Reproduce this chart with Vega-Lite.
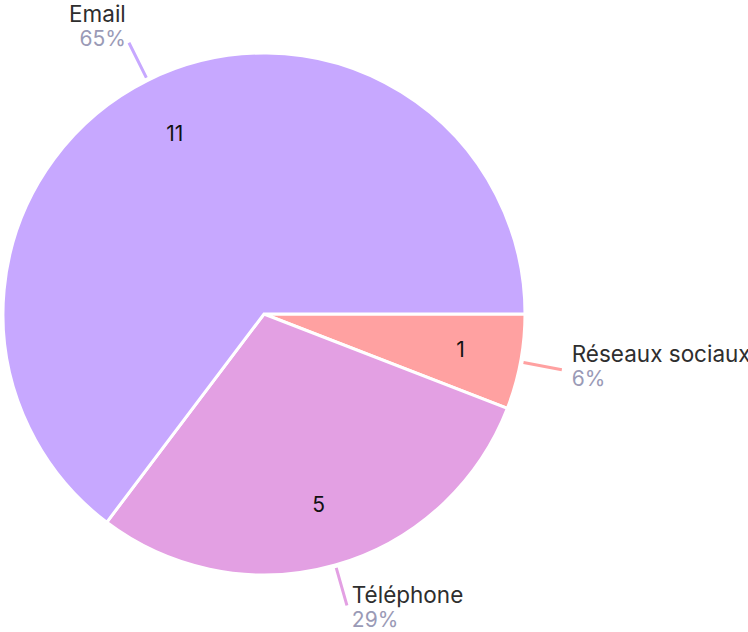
{
  "$schema": "https://vega.github.io/schema/vega-lite/v6.json",
  "width": 528,
  "height": 628,
  "autosize": {"type": "none"},
  "padding": {"left": 0, "top": 0, "right": 220, "bottom": 4},
  "background": "white",
  "config": {"view": {"stroke": null}, "font": "Inter"},
  "data": {
    "values": [
      {"name": "Réseaux sociaux", "value": 1, "share": 0.06},
      {"name": "Téléphone", "value": 5, "share": 0.29},
      {"name": "Email", "value": 11, "share": 0.65}
    ]
  },
  "transform": [
    {"stack": "value", "groupby": [], "sort": [{"field": "value", "order": "ascending"}], "as": ["start", "end"]},
    {"calculate": "(datum.start + datum.end) / 2", "as": "mid"}
  ],
  "layer": [
    {
      "mark": {"type": "arc", "outerRadius": 261, "stroke": "white", "strokeWidth": 3},
      "encoding": {
        "theta": {"field": "start", "type": "quantitative", "stack": null, "scale": {"domain": [0, 17], "range": [1.5708, 7.854]}},
        "theta2": {"field": "end"},
        "color": {"field": "name", "type": "nominal", "scale": {"domain": ["Email", "Téléphone", "Réseaux sociaux"], "range": ["#C7A8FF", "#E3A0E3", "#FFA1A1"]}, "legend": null}
      }
    },
    {
      "mark": {"type": "arc", "innerRadius": 264, "outerRadius": 303, "filled": false, "strokeWidth": 3, "strokeCap": "butt"},
      "encoding": {
        "theta": {"field": "mid", "type": "quantitative", "stack": null, "scale": {"domain": [0, 17], "range": [1.5708, 7.854]}},
        "theta2": {"field": "mid"},
        "color": {"field": "name", "type": "nominal", "scale": {"domain": ["Email", "Téléphone", "Réseaux sociaux"], "range": ["#C7A8FF", "#E3A0E3", "#FFA1A1"]}, "legend": null}
      }
    },
    {
      "mark": {"type": "text", "radius": 200, "fontSize": 21, "color": "#111111", "align": "center", "baseline": "middle"},
      "encoding": {
        "theta": {"field": "mid", "type": "quantitative", "stack": null, "scale": {"domain": [0, 17], "range": [1.5708, 7.854]}},
        "text": {"field": "value", "type": "quantitative"}
      }
    },
    {
      "transform": [{"filter": {"not": {"field": "mid", "range": [4.25, 12.75]}}}],
      "mark": {"type": "text", "radius": 310, "fontSize": 22.5, "color": "#2E2E2E", "align": "left", "baseline": "alphabetic", "dx": 3, "dy": -9},
      "encoding": {
        "theta": {"field": "mid", "type": "quantitative", "stack": null, "scale": {"domain": [0, 17], "range": [1.5708, 7.854]}},
        "text": {"field": "name", "type": "nominal"}
      }
    },
    {
      "transform": [{"filter": {"not": {"field": "mid", "range": [4.25, 12.75]}}}],
      "mark": {"type": "text", "radius": 310, "fontSize": 21, "color": "#9A9AB6", "align": "left", "baseline": "alphabetic", "dx": 3, "dy": 15},
      "encoding": {
        "theta": {"field": "mid", "type": "quantitative", "stack": null, "scale": {"domain": [0, 17], "range": [1.5708, 7.854]}},
        "text": {"field": "share", "type": "quantitative", "format": ".0%"}
      }
    },
    {
      "transform": [{"filter": {"field": "mid", "range": [4.25, 12.75]}}],
      "mark": {"type": "text", "radius": 310, "fontSize": 22.5, "color": "#2E2E2E", "align": "right", "baseline": "alphabetic", "dx": 0, "dy": -14},
      "encoding": {
        "theta": {"field": "mid", "type": "quantitative", "stack": null, "scale": {"domain": [0, 17], "range": [1.5708, 7.854]}},
        "text": {"field": "name", "type": "nominal"}
      }
    },
    {
      "transform": [{"filter": {"field": "mid", "range": [4.25, 12.75]}}],
      "mark": {"type": "text", "radius": 310, "fontSize": 21, "color": "#9A9AB6", "align": "right", "baseline": "alphabetic", "dx": 0, "dy": 10},
      "encoding": {
        "theta": {"field": "mid", "type": "quantitative", "stack": null, "scale": {"domain": [0, 17], "range": [1.5708, 7.854]}},
        "text": {"field": "share", "type": "quantitative", "format": ".0%"}
      }
    }
  ]
}
